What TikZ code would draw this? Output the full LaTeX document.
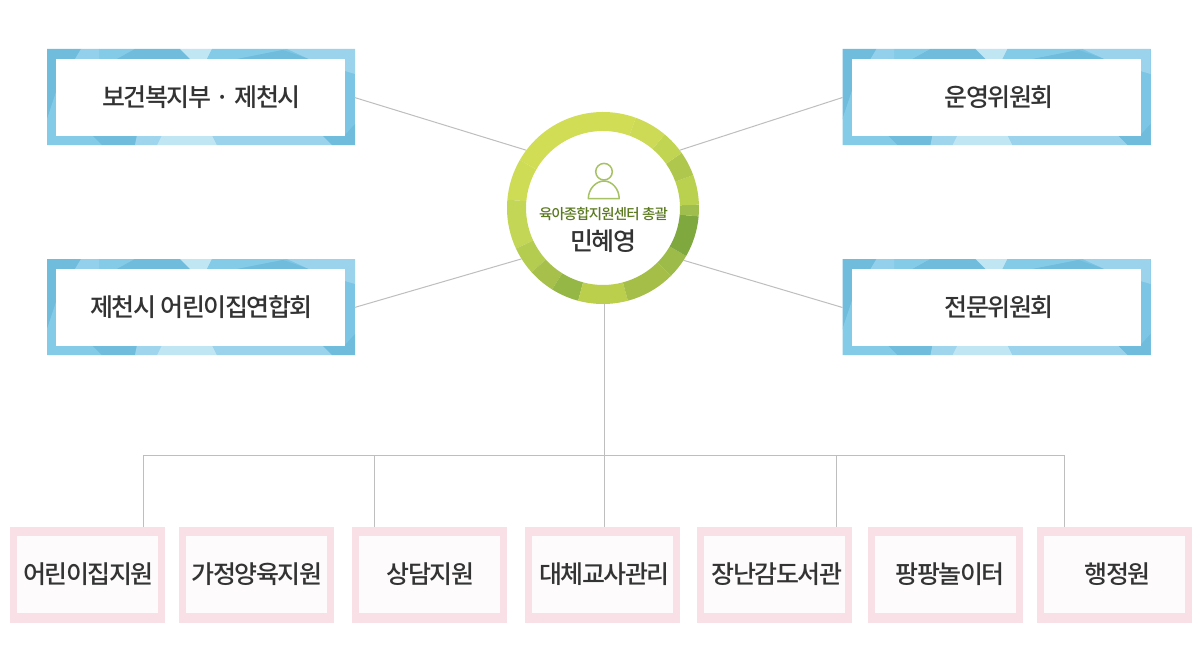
\documentclass[tikz,border=0pt]{standalone}
\usepackage{fontspec}
\newfontfamily\ko[LetterSpace=-6,WordSpace=1.05]{Noto Sans CJK KR Medium}
\usetikzlibrary{calc}
\definecolor{bA}{HTML}{7CC5E4}
\definecolor{bD}{HTML}{70BCDD}
\definecolor{bL}{HTML}{93D0EB}
\definecolor{bM}{HTML}{84CBE8}
\definecolor{bP}{HTML}{C0E5F3}
\definecolor{bQ}{HTML}{9BD3EC}
\definecolor{pinkB}{HTML}{F9E0E7}
\definecolor{pinkI}{HTML}{FDFBFC}
\definecolor{lineC}{HTML}{BEBEBE}
\definecolor{inkC}{HTML}{333333}
\definecolor{subC}{HTML}{5B7A20}
\definecolor{iconC}{HTML}{A6C264}
\tikzset{
  x=1pt,y=1pt,
  conn/.style={draw=lineC,line width=1pt},
  bluelabel/.style={fill=white,minimum width=289pt,minimum height=77pt,outer xsep=9.5pt,outer ysep=9.5pt,inner sep=0pt,text=inkC,font=\ko\fontsize{25}{28}\selectfont},
  pinklabel/.style={fill=pinkI,minimum width=141pt,minimum height=77pt,outer xsep=7pt,outer ysep=9.5pt,inner sep=0pt,text=inkC,font=\ko\fontsize{25}{28}\selectfont},
}
\newcommand{\facets}[2]{%
  \begin{scope}[shift={(#1,-#2)},yscale=-1]
    \fill[bA] (0,0) rectangle (308,96);
    \fill[bD] (0,0)--(34,0)--(28,10)--(10,10)--(10,40)--(0,70)--cycle;
    \fill[bL] (34,0)--(52,0)--(52,10)--(28,10)--cycle;
    \fill[bM] (52,0)--(88,0)--(70,10)--(52,10)--cycle;
    \fill[bD] (88,0)--(133,0)--(143,10)--(70,10)--cycle;
    \fill[bP] (133,0)--(165,0)--(160,10)--(143,10)--cycle;
    \fill[bM] (165,0)--(240,0)--(190,10)--(160,10)--cycle;
    \fill[bD] (190,10)--(236,1)--(262,10)--cycle;
    \fill[bQ] (240,0)--(308,0)--(308,25)--(298,22)--(298,10)--(262,10)--cycle;
    \fill[bM] (0,70)--(10,40)--(10,86)--(45,86)--(55,96)--(0,96)--cycle;
    \fill[bD] (45,86)--(90,86)--(88,96)--(55,96)--cycle;
    \fill[bL!70!bP] (90,86)--(115,86)--(110,96)--(88,96)--cycle;
    \fill[bP] (115,86)--(165,86)--(170,96)--(110,96)--cycle;
    \fill[bQ] (165,86)--(275,86)--(285,96)--(170,96)--cycle;
    \fill[bD] (275,86)--(298,86)--(308,75)--(308,96)--(285,96)--cycle;
  \end{scope}}
\newcommand{\seg}[3]{\definecolor{segC}{HTML}{#3}\fill[segC] ($(ringc)+(#1:96)$) arc[start angle=#1,end angle=#2,radius=96] -- ($(ringc)+(#2:77)$) arc[start angle=#2,end angle=#1,radius=77] -- cycle;}
\newcommand{\pinkbox}[4]{\fill[pinkB] (#2-77.5,-527) rectangle (#2+77.5,-623);
  \node[pinklabel] (#1) at (#2,-574.5) {\hspace*{#4}#3};}
\begin{document}
\begin{tikzpicture}
\useasboundingbox (0,0) rectangle (1200,-669);
\fill[white] (0,0) rectangle (1200,-669);
\coordinate (ringc) at (603,-208);
\node[circle,minimum size=192pt,inner sep=0pt,outer sep=0pt] (ring) at (ringc) {};
\facets{47}{49}\facets{47}{259}\facets{842.5}{49}\facets{842.5}{259}
\node[bluelabel] (a) at (200.5,-97.5) {\hspace*{2pt}\raisebox{1pt}{보건복지부 · 제천시}};
\node[bluelabel] (b) at (200.5,-307.5) {\hspace*{2pt}제천시 어린이집연합회};
\node[bluelabel] (c) at (996.5,-97.5) {\hspace*{5pt}\raisebox{1pt}{운영위원회}};
\node[bluelabel] (d) at (996.5,-307.5) {\hspace*{5pt}전문위원회};
\pinkbox{p1}{87.5}{어린이집지원}{2pt}
\pinkbox{p2}{256.5}{가정양육지원}{1pt}
\pinkbox{p3}{429.5}{상담지원}{2pt}
\pinkbox{p4}{602.5}{대체교사관리}{4pt}
\pinkbox{p5}{774.5}{장난감도서관}{5pt}
\pinkbox{p6}{945.5}{팡팡놀이터}{9pt}
\pinkbox{p7}{1114.5}{행정원}{6pt}
\draw[conn] (a.east) -- (ring.143);
\draw[conn] (c.west) -- (ring.37);
\draw[conn] (b.east) -- (ring.212);
\draw[conn] (d.west) -- (ring.327);
\coordinate (bus0) at (604.5,-455.5);
\coordinate (bus1) at (143.5,-455.5);
\coordinate (bus2) at (374.5,-455.5);
\coordinate (bus3) at (604.5,-455.5);
\coordinate (bus4) at (836.5,-455.5);
\coordinate (bus5) at (1064.5,-455.5);
\draw[conn] (ring.south -| bus0) -- (bus0);
\draw[conn] (bus1 |- p1.north) -- (bus1) -- (bus5) -- (bus5 |- p7.north);
\draw[conn] (bus2) -- (bus2 |- p3.north);
\draw[conn] (bus3) -- (bus3 |- p4.north);
\draw[conn] (bus4) -- (bus4 |- p5.north);
% ring
\seg{70}{150}{D1DE55}
\seg{150}{175}{CDDC54}
\seg{175}{205}{C4D655}
\seg{205}{222}{B4CC50}
\seg{222}{238}{A6C04B}
\seg{238}{255}{95B746}
\seg{255}{285}{BBCF4D}
\seg{285}{315}{A4BE48}
\seg{315}{330}{9DBB49}
\seg{330}{355}{7FA83F}
\seg{355}{362}{A0BE4E}
\seg{2}{20}{BAD04F}
\seg{20}{35}{B0C74E}
\seg{35}{50}{C2D552}
\seg{50}{70}{CDDA55}
% person
\draw[iconC,line width=1.5pt] (604,-171.7) circle (8.3);
\draw[iconC,line width=1.5pt,line join=round] (588.3,-198.7) -- (619.2,-198.7) .. controls (619.2,-189) and (612,-181) .. (604,-181) .. controls (596,-181) and (588.3,-189) .. (588.3,-198.7) -- cycle;
\node[inner sep=0pt,text=subC,font=\ko\fontsize{14.5}{16}\selectfont] (role) at (603.5,-214) {육아종합지원센터 총괄};
\node[inner sep=0pt,text=inkC,font=\ko\fontsize{25}{28}\selectfont] (name) at (603,-241) {민혜영};
\end{tikzpicture}
\end{document}
